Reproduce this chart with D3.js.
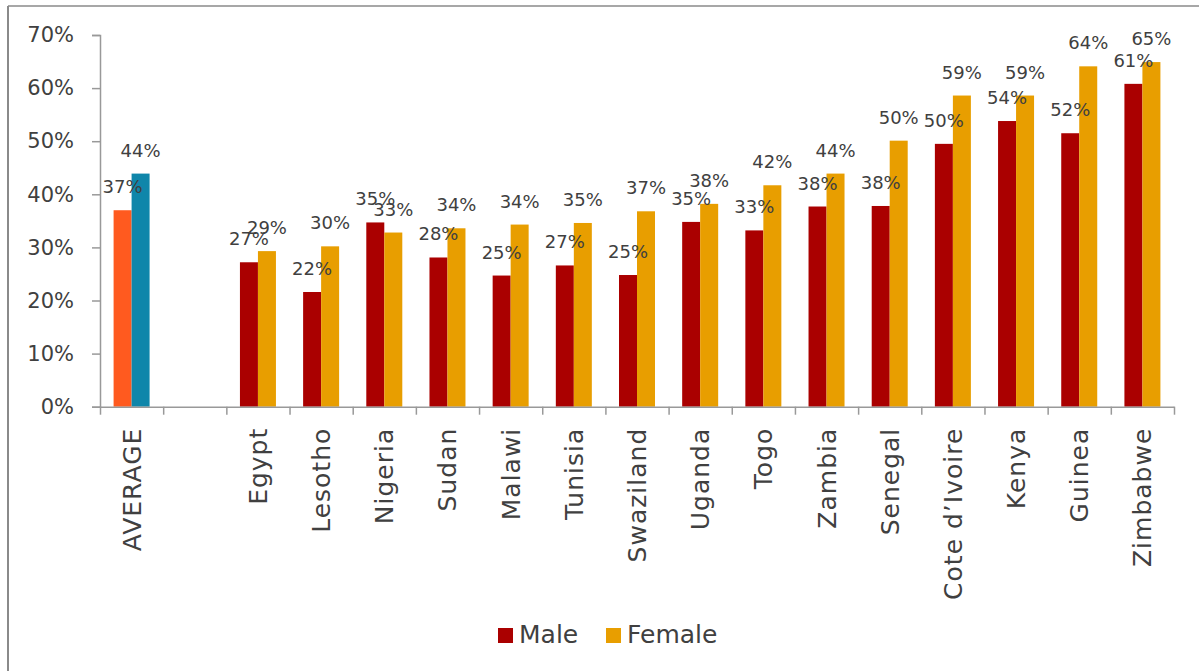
<!DOCTYPE html>
<html>
<head>
<meta charset="utf-8">
<script src="https://cdn.jsdelivr.net/npm/d3@7"></script>
<style>
  html, body { margin: 0; padding: 0; background: #fff; }
  svg { display: block; }
  text { font-family: "DejaVu Sans", sans-serif; fill: #404040; }
</style>
</head>
<body>
<svg id="chart" width="1199" height="671"></svg>
<script>
// ---- data ----
const categories = ["AVERAGE", "", "Egypt", "Lesotho", "Nigeria", "Sudan", "Malawi", "Tunisia", "Swaziland", "Uganda", "Togo", "Zambia", "Senegal", "Cote d\u2019Ivoire", "Kenya", "Guinea", "Zimbabwe"];
const male   = [37.0, null, 27.2, 21.6, 34.7, 28.1, 24.7, 26.6, 24.8, 34.8, 33.2, 37.7, 37.8, 49.5, 53.8, 51.5, 60.8];
const female = [43.9, null, 29.3, 30.2, 32.8, 33.6, 34.3, 34.6, 36.8, 38.2, 41.7, 43.9, 50.1, 58.6, 58.6, 64.1, 64.9];
const seriesNames = ["Male", "Female"];
const yTicks = [0, 10, 20, 30, 40, 50, 60, 70];

const seriesColors = { Male: "#AA0000", Female: "#E89E00" };
const avgColors = { Male: "#FF5A1F", Female: "#0F86AA" };

// ---- layout ----
const svg = d3.select("#chart");
const plotLeft = 100, plotRight = 1174, plotTop = 35, plotBottom = 406.7;

const x = d3.scaleBand().domain(d3.range(categories.length)).range([plotLeft, plotRight]).paddingInner(0).paddingOuter(0);
const xb = d3.scaleLinear().domain([0, categories.length]).range([plotLeft, plotRight]);
const x1 = d3.scaleBand().domain(seriesNames).range([0, x.bandwidth()]).paddingInner(0).paddingOuter(0.755);
const y = d3.scaleLinear().domain([0, 70]).range([plotBottom, plotTop]);

// frame
svg.append("line").attr("x1", 8).attr("x2", 8).attr("y1", 6).attr("y2", 671)
  .attr("stroke", "#8a8a8a").attr("stroke-width", 2);
svg.append("line").attr("x1", 8).attr("x2", 1199).attr("y1", 6).attr("y2", 6)
  .attr("stroke", "#8a8a8a").attr("stroke-width", 1.5);

// bars
const rows = categories.map((c, i) => ({ i, c, values: [{ s: "Male", v: male[i] }, { s: "Female", v: female[i] }] }));
const g = svg.append("g");
const groups = g.selectAll("g.cat").data(rows).join("g")
  .attr("transform", d => `translate(${x(d.i)},0)`);

groups.selectAll("rect").data(d => d.values.filter(v => v.v != null).map(v => ({ ...v, avg: d.i === 0 })))
  .join("rect")
  .attr("x", d => x1(d.s))
  .attr("width", x1.bandwidth())
  .attr("y", d => y(d.v))
  .attr("height", d => y(0) - y(d.v))
  .attr("fill", d => d.avg ? avgColors[d.s] : seriesColors[d.s]);

groups.selectAll("text.lbl").data(d => d.values.filter(v => v.v != null))
  .join("text").attr("class", "lbl")
  .attr("x", d => x1(d.s) + x1.bandwidth() / 2)
  .attr("y", d => y(d.v) - 17)
  .attr("text-anchor", "middle")
  .style("font-size", "18px")
  .text(d => Math.round(d.v) + "%");

// y axis
const yAxis = svg.append("g").attr("transform", `translate(${plotLeft},0)`)
  .call(d3.axisLeft(y).tickValues(yTicks).tickSize(8).tickSizeOuter(8).tickPadding(18).tickFormat(d => d + "%"));
yAxis.selectAll("path, line").attr("stroke", "#999").attr("stroke-width", 1.5);
yAxis.selectAll("text").style("font-size", "21px").attr("fill", "#404040");

// x axis boundary ticks
const xAxis = svg.append("g").attr("transform", `translate(0,${plotBottom})`)
  .call(d3.axisBottom(xb).tickValues(d3.range(categories.length + 1)).tickSize(8).tickSizeOuter(0).tickFormat(""));
xAxis.selectAll("path, line").attr("stroke", "#999").attr("stroke-width", 1.5);

// x labels
const xl = svg.append("g").attr("transform", `translate(0,${plotBottom})`)
  .call(d3.axisBottom(x).tickSize(0).tickFormat(i => categories[i]));
xl.select(".domain").remove();
xl.selectAll("text")
  .attr("transform", "translate(0,21) rotate(-90)")
  .attr("x", 0).attr("y", 0).attr("dy", "0.36em")
  .attr("text-anchor", "end")
  .style("font-size", "25px")
  .style("letter-spacing", "1px")
  .attr("fill", "#404040");

// legend
const legend = svg.append("g").attr("transform", "translate(498,628)");
const legendX = d3.scaleOrdinal().domain(seriesNames).range([0, 108]);
const li = legend.selectAll("g").data(seriesNames).join("g")
  .attr("transform", d => `translate(${legendX(d)},0)`);
li.append("rect").attr("width", 15).attr("height", 15).attr("fill", d => seriesColors[d]);
li.append("text").attr("x", 21).attr("y", 15).style("font-size", "25px").text(d => d);
</script>
</body>
</html>
